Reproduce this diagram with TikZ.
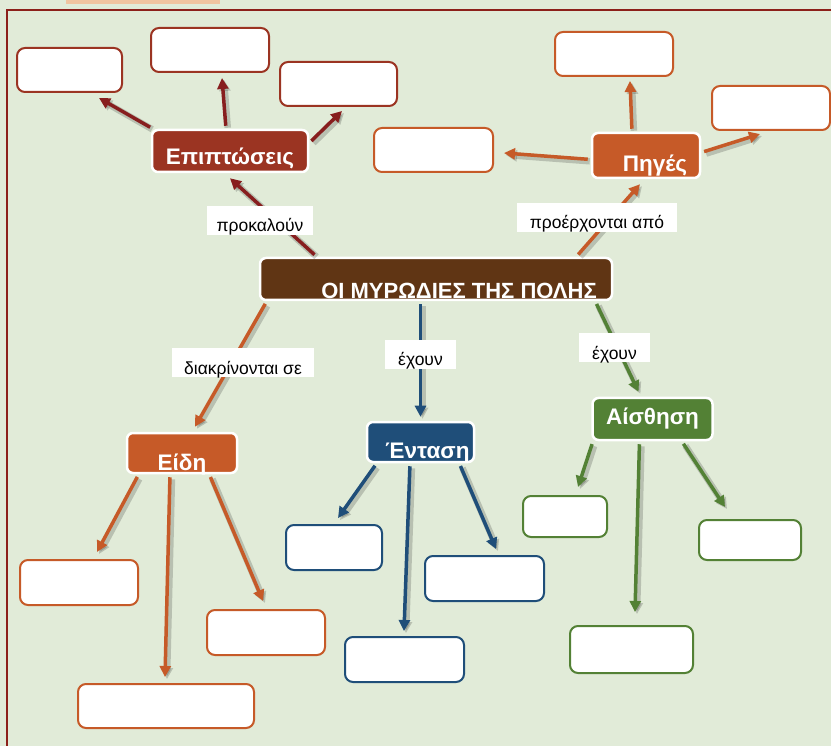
\documentclass[tikz,border=0pt]{standalone}
\usepackage{fontspec}
\setmainfont{Liberation Sans}
\usetikzlibrary{arrows.meta}
\definecolor{bgreen}{RGB}{225,235,216}
\definecolor{framered}{RGB}{140,32,26}
\definecolor{epired}{RGB}{155,52,34}
\definecolor{arrred}{RGB}{135,30,30}
\definecolor{mudbrown}{RGB}{96,53,20}
\definecolor{rust}{RGB}{198,90,40}
\definecolor{navy}{RGB}{31,78,121}
\definecolor{leaf}{RGB}{83,129,53}
\definecolor{thumb}{RGB}{240,196,160}
\begin{document}
\begin{tikzpicture}[x=1pt,y=-1pt]
        \tikzstyle{topic}=[rounded corners=6pt,draw=white,line width=2.5pt,text=white,inner sep=0pt,font=\bfseries\fontsize{22.5}{22.5}\selectfont]
        \tikzstyle{blank}=[rounded corners=8pt,fill=white,line width=2pt,inner sep=0pt,minimum height=44pt]
        \tikzstyle{verb}=[fill=white,inner sep=0pt,minimum height=29pt,text height=23pt,text depth=0pt,font=\fontsize{17.5}{17.5}\selectfont]
        \tikzstyle{edge}=[draw,line width=3.5pt,-{Triangle[length=11pt,width=11pt]},shorten <=3pt,preaction={draw=black,opacity=.18,line width=6.5pt,transform canvas={shift={(2pt,-2pt)}}}]
        \useasboundingbox (0,0) rectangle (831,746);
        \fill[bgreen] (0,0) rectangle (831,746);
        \fill[thumb] (66,0) rectangle (220,4);
        \draw[framered,line width=2.5pt] (831,10) -- (7,10) -- (7,746);
       \begin{scope}
         % main concepts
         \node [topic,fill=mudbrown,minimum width=352pt,minimum height=42pt,text height=40pt,text depth=0pt,font=\bfseries\fontsize{22}{22}\selectfont] (cen) at (436,279) {\hspace*{46pt}ΟΙ ΜΥΡΩΔΙΕΣ ΤΗΣ ΠΟΛΗΣ};
         \node [topic,fill=epired,minimum width=156pt,minimum height=42pt,text height=28pt,text depth=0pt] (epi) at (230,151) {Επιπτώσεις};
         \node [topic,fill=rust,minimum width=108pt,minimum height=45pt,text height=33pt,text depth=0pt] (pig) at (646,155.5) {\hspace*{18pt}Πηγές};
         \node [topic,fill=rust,minimum width=110pt,minimum height=40pt,text height=35pt,text depth=0pt] (eidi) at (182,453) {Είδη};
         \node [topic,fill=navy,minimum width=107pt,minimum height=40pt,text height=33pt,text depth=0pt] (ent) at (420.5,442) {\hspace*{14pt}Ένταση};
         \node [topic,fill=leaf,minimum width=120pt,minimum height=42pt] (ais) at (652.5,419) {Αίσθηση};
         % empty boxes
         \node [blank,draw=epired,minimum width=105pt] (b1) at (69.5,70) {};
         \node [blank,draw=epired,minimum width=118pt] (b2) at (210,50) {};
         \node [blank,draw=epired,minimum width=117pt] (b3) at (338.5,84) {};
         \node [blank,draw=rust,minimum width=118pt] (b4) at (614,54) {};
         \node [blank,draw=rust,minimum width=118pt] (b5) at (771,108) {};
         \node [blank,draw=rust,minimum width=119pt] (b6) at (433.5,150) {};
         \node [blank,draw=rust,minimum width=118pt,minimum height=45pt] (b7) at (79,582.5) {};
         \node [blank,draw=rust,minimum width=118pt,minimum height=45pt] (b8) at (266,632.5) {};
         \node [blank,draw=rust,minimum width=176pt] (b9) at (166,706) {};
         \node [blank,draw=navy,minimum width=96pt,minimum height=45pt] (b10) at (334,547.5) {};
         \node [blank,draw=navy,minimum width=119pt,minimum height=45pt] (b11) at (484.5,578.5) {};
         \node [blank,draw=navy,minimum width=119pt,minimum height=45pt] (b12) at (404.5,659.5) {};
         \node [blank,draw=leaf,minimum width=84pt,minimum height=41pt] (b13) at (565,516.5) {};
         \node [blank,draw=leaf,minimum width=102pt,minimum height=40pt] (b14) at (750,540) {};
         \node [blank,draw=leaf,minimum width=123pt,minimum height=47pt] (b15) at (631.5,649.5) {};
         % arrows
         \draw[edge,arrred] ([xshift=58pt]cen.north west) -- ([yshift=-5pt]epi.south);
         \draw[edge,arrred] ([xshift=2pt]epi.north west) -- ([xshift=-24pt,yshift=-5pt]b1.south east);
         \draw[edge,arrred] ([xshift=-4pt]epi.north) -- ([xshift=12pt,yshift=-5pt]b2.south);
         \draw[edge,arrred] ([yshift=8pt]epi.east) -- ([xshift=3.5pt,yshift=-4pt]b3.south);
         \draw[edge,rust] ([xshift=-37pt]cen.north east) -- ([xshift=-6pt,yshift=-5pt]pig.south);
         \draw[edge,rust] ([xshift=-14pt]pig.north) -- ([xshift=16pt,yshift=-4pt]b4.south);
         \draw[edge,rust] ([yshift=-4pt]pig.west) -- ([xshift=10pt,yshift=-3pt]b6.east);
         \draw[edge,rust] ([yshift=3pt]pig.east) -- ([xshift=49pt,yshift=-3pt]b5.south west);
         \draw[edge,rust] ([xshift=8pt]cen.south west) -- ([xshift=13pt,yshift=5pt]eidi.north);
         \draw[edge,rust] ([xshift=13pt]eidi.south west) -- ([xshift=18pt,yshift=7pt]b7.north);
         \draw[edge,rust] ([xshift=-12pt]eidi.south) -- ([xshift=-1pt,yshift=6pt]b9.north);
         \draw[edge,rust] ([xshift=-29pt]eidi.south east) -- ([xshift=-3pt,yshift=8pt]b8.north);
         \draw[edge,navy] ([xshift=-15.5pt]cen.south) -- ([yshift=4pt]ent.north);
         \draw[edge,navy] ([xshift=11pt]ent.south west) -- ([xshift=4pt,yshift=6pt]b10.north);
         \draw[edge,navy] ([xshift=-10.5pt]ent.south) -- ([xshift=-0.5pt,yshift=5pt]b12.north);
         \draw[edge,navy] ([xshift=-16pt]ent.south east) -- ([xshift=11.5pt,yshift=6pt]b11.north);
         \draw[edge,leaf] ([xshift=-18pt]cen.south east) -- ([xshift=-14pt,yshift=5pt]ais.north);
         \draw[edge,leaf] ([xshift=-59.5pt]ais.south) -- ([xshift=13pt,yshift=8pt]b13.north);
         \draw[edge,leaf] ([xshift=-13pt]ais.south) -- ([xshift=3.5pt,yshift=13pt]b15.north);
         \draw[edge,leaf] ([xshift=-32pt]ais.south east) -- ([xshift=-25pt,yshift=12pt]b14.north);
         % link words
         \node [verb,minimum width=106pt] (l1) at (260,220.5) {προκαλούν};
         \node [verb,minimum width=160pt] (l2) at (597,217.5) {προέρχονται από};
         \node [verb,minimum width=142pt] (l3) at (243,362.5) {διακρίνονται σε};
         \node [verb,minimum width=71pt] (l4) at (420.5,354.5) {έχουν};
         \node [verb,minimum width=71pt] (l5) at (614.5,348) {έχουν};
        \end{scope}
\end{tikzpicture}
\end{document}
